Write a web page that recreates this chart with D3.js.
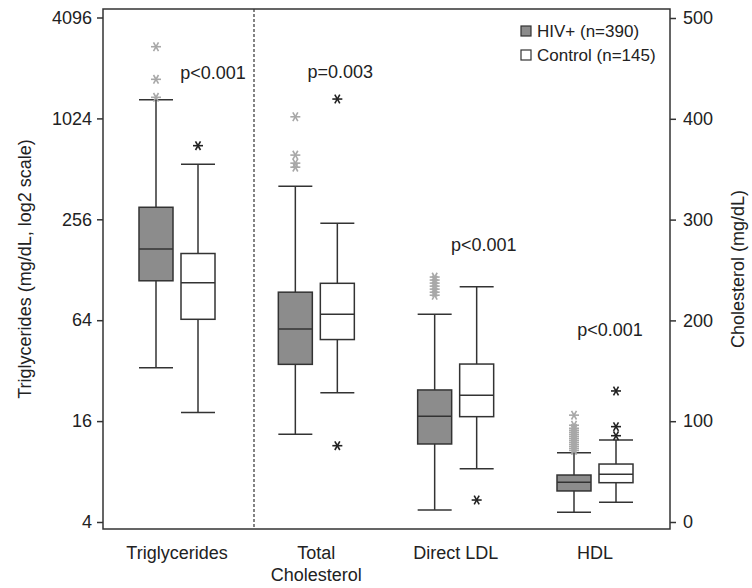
<!DOCTYPE html>
<html><head><meta charset="utf-8">
<script src="https://cdn.jsdelivr.net/npm/d3@7"></script>
<style>
html,body{margin:0;padding:0;background:#fff;}
text{font-family:"Liberation Sans",Arial,sans-serif;fill:#222;}
</style></head>
<body><svg id="c" width="752" height="588"></svg>
<script>
// ---- data ----
const categories = ["Triglycerides", "Total Cholesterol", "Direct LDL", "HDL"];
const groups = ["HIV+ (n=390)", "Control (n=145)"];
// [lower whisker, Q1, median, Q3, upper whisker]
const hivStats = [[33.3,110,170,302,1324],[87,156.4,191.5,228,333],[12,77.4,105,131,206],[9.6,30.8,39.4,46.6,68.8]];
const ctrlStats = [[18,64.8,107,160,545],[128.3,181,206,236.8,296.3],[52.9,104.5,125.7,156.7,233.4],[19.5,39,47.3,57.5,81.3]];
const hivOutliers = [[1368,1752,2742],[352,356,364,402],[225,228,231,234,237,240,243],[71,73,75,77,79,81,83,85,87,89,91,93,96,106]];
const ctrlOutliers = [[704],[75.7,419.6],[21.8],[85.6,94.6,130]];
const pLabels = ["p<0.001","p=0.003","p<0.001","p<0.001"];
const pLabelAt = [1900, 446, 275, 190];
const leftTicks = [4,16,64,256,1024,4096];
const rightTicks = [0,100,200,300,400,500];

// ---- layout ----
const W=752,H=588;
const fL=103,fR=670,fT=9,fB=529;
const svg=d3.select("#c");
const yLog=d3.scaleLog().base(2).domain([4,4096]).range([522,17.5]);
const yLin=d3.scaleLinear().domain([0,500]).range([522,18]);
const x=d3.scalePoint().domain(categories).range([177,595]);
const scaleFor=i=> i===0?yLog:yLin;
const off=21,bw=34;
const ink="#333";

// frame
svg.append("rect").attr("x",fL).attr("y",fT).attr("width",fR-fL).attr("height",fB-fT)
  .attr("fill","none").attr("stroke",ink).attr("stroke-width",1.5);
// dashed divider
const divX=x(categories[0])+77;
svg.append("line").attr("x1",divX).attr("x2",divX).attr("y1",fT).attr("y2",fB)
  .attr("stroke",ink).attr("stroke-width",1.2).attr("stroke-dasharray","3,2");

// axes
const gl=svg.append("g").attr("transform",`translate(${fL},0)`)
  .call(d3.axisLeft(yLog).tickValues(leftTicks).tickFormat(d3.format("d")).tickSize(6).tickSizeOuter(0).tickPadding(5));
const gr=svg.append("g").attr("transform",`translate(${fR},0)`)
  .call(d3.axisRight(yLin).tickValues(rightTicks).tickSize(6).tickSizeOuter(0).tickPadding(7));
[gl,gr].forEach(g=>{
  g.select(".domain").remove();
  g.selectAll(".tick line").attr("stroke",ink).attr("stroke-width",1.5);
  g.selectAll(".tick text").attr("font-size",18).attr("fill","#222")
   .style("font-family",'"Liberation Sans",Arial,sans-serif');
});

// axis titles
svg.append("text").attr("transform",`translate(31,${(fT+fB)/2}) rotate(-90)`)
  .attr("text-anchor","middle").attr("font-size",18).text("Triglycerides (mg/dL, log2 scale)");
svg.append("text").attr("transform",`translate(744,${(fT+fB)/2}) rotate(-90)`)
  .attr("text-anchor","middle").attr("font-size",18).text("Cholesterol (mg/dL)");

// category labels
categories.forEach(c=>{
  const parts = c==="Total Cholesterol" ? ["Total","Cholesterol"] : [c];
  const t=svg.append("text").attr("text-anchor","middle").attr("font-size",18)
    .attr("x",x(c)).attr("y",559);
  parts.forEach((p,i)=>t.append("tspan").attr("x",x(c)).attr("dy",i?22:0).text(p));
});

// asterisk
function star(g,cx,cy,color){
  const r=5;
  [0,60,120].forEach(a=>{
    const rad=a*Math.PI/180, dx=r*Math.cos(rad), dy=r*Math.sin(rad);
    g.append("line").attr("x1",cx-dx).attr("x2",cx+dx).attr("y1",cy-dy).attr("y2",cy+dy)
      .attr("stroke",color).attr("stroke-width",1.6);
  });
}

function drawBox(stats,outs,i,dx,fill,outColor){
  const y=scaleFor(i), cx=x(categories[i])+dx;
  const [lo,q1,med,q3,hi]=stats;
  const g=svg.append("g");
  g.append("line").attr("x1",cx).attr("x2",cx).attr("y1",y(hi)).attr("y2",y(lo)).attr("stroke",ink).attr("stroke-width",1.5);
  [lo,hi].forEach(v=>g.append("line").attr("x1",cx-bw/2).attr("x2",cx+bw/2).attr("y1",y(v)).attr("y2",y(v)).attr("stroke",ink).attr("stroke-width",1.5));
  g.append("rect").attr("x",cx-bw/2).attr("width",bw).attr("y",y(q3)).attr("height",y(q1)-y(q3))
    .attr("fill",fill).attr("stroke",ink).attr("stroke-width",1.5);
  g.append("line").attr("x1",cx-bw/2).attr("x2",cx+bw/2).attr("y1",y(med)).attr("y2",y(med)).attr("stroke",ink).attr("stroke-width",1.5);
  outs.forEach(v=>star(g,cx,y(v),outColor));
}
categories.forEach((c,i)=>{
  drawBox(hivStats[i],hivOutliers[i],i,-off,"#8c8c8c","#a8a8a8");
  drawBox(ctrlStats[i],ctrlOutliers[i],i,off,"#fff","#222");
});

// p labels
const pdx=[36,24,28,15];
pLabels.forEach((p,i)=>{
  svg.append("text").attr("text-anchor","middle").attr("font-size",18)
    .attr("x",x(categories[i])+pdx[i]).attr("y",scaleFor(i)(pLabelAt[i])+6).text(p);
});

// legend
const lg=svg.append("g");
groups.forEach((gname,i)=>{
  lg.append("rect").attr("x",521).attr("y",26+i*24).attr("width",10).attr("height",10)
    .attr("fill",i?"#fff":"#8c8c8c").attr("stroke",ink).attr("stroke-width",1.2);
  lg.append("text").attr("x",537).attr("y",37+i*24).attr("font-size",17).text(gname);
});
</script></body></html>
